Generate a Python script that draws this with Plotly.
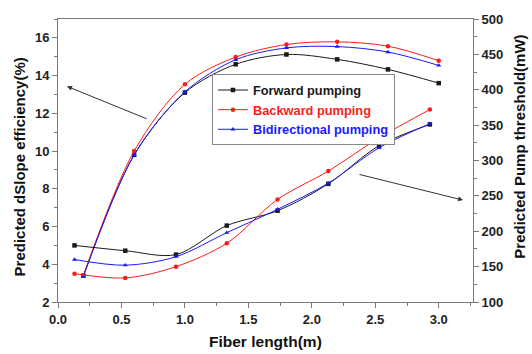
import plotly.graph_objects as go

# Slope efficiency (left axis)
len_slope = [0.2, 0.6, 1.0, 1.4, 1.8, 2.2, 2.6, 3.0]
slope_fwd = [3.4, 9.8, 13.1, 14.6, 15.12, 14.86, 14.33, 13.6]
slope_bwd = [3.4, 10.0, 13.54, 14.98, 15.65, 15.79, 15.56, 14.79]
slope_bid = [3.35, 9.79, 13.14, 14.84, 15.47, 15.54, 15.25, 14.54]

# Pump threshold (right axis)
len_thr = [0.13, 0.53, 0.93, 1.33, 1.73, 2.13, 2.53, 2.93]
thr_fwd = [180, 172.5, 167, 208, 229, 267, 321, 351]
thr_bwd = [140, 134, 150, 183, 245, 285, 332, 372]
thr_bid = [160, 152, 164, 198, 231, 268, 318, 352]

names = ["Forward pumping", "Backward pumping", "Bidirectional pumping"]
colors = ["#1a1a1a", "#ff1a1a", "#1a1aff"]
symbols = ["square", "circle", "triangle-up"]

fig = go.Figure()
for name, col, sym, ys in zip(names, colors, symbols, [slope_fwd, slope_bwd, slope_bid]):
    fig.add_trace(go.Scatter(x=len_slope, y=ys,
                             name="<b><span style='color:%s'>%s</span></b>" % (col, name),
                             mode="lines+markers",
                             line=dict(color=col, width=1, shape="spline", smoothing=0.9),
                             marker=dict(color=col, symbol=sym, size=4.5),
                             legendgroup=name))
for name, col, sym, ys in zip(names, colors, symbols, [thr_fwd, thr_bwd, thr_bid]):
    fig.add_trace(go.Scatter(x=len_thr, y=ys, name=name, mode="lines+markers", yaxis="y2",
                             line=dict(color=col, width=1, shape="spline", smoothing=0.9),
                             marker=dict(color=col, symbol=sym, size=4.5),
                             legendgroup=name, showlegend=False))

axcol = "#7a7a7a"
FONT = "Liberation Sans, Arial, sans-serif"
tickfont = dict(family=FONT, size=13, color="#222")
titlefont = dict(family=FONT, size=15, color="#111")

fig.update_layout(
    width=532, height=354,
    margin=dict(l=58, r=59, t=16, b=52),
    paper_bgcolor="white", plot_bgcolor="white",
    showlegend=True,
    legend=dict(x=0.371, y=0.805, xanchor="left", yanchor="top",
                bgcolor="white", bordercolor="#888", borderwidth=1,
                font=dict(family=FONT, size=12.8),
                tracegroupgap=0, itemwidth=30),
    xaxis=dict(range=[0, 3.27], tickvals=[0, 0.5, 1.0, 1.5, 2.0, 2.5, 3.0],
               ticktext=["<b>0.0</b>", "<b>0.5</b>", "<b>1.0</b>", "<b>1.5</b>", "<b>2.0</b>", "<b>2.5</b>", "<b>3.0</b>"],
               ticks="outside", ticklen=5, tickcolor=axcol,
               minor=dict(dtick=0.25, ticks="outside", ticklen=3, tickcolor=axcol),
               showline=True, linecolor=axcol, linewidth=1, mirror=True,
               showgrid=False, zeroline=False, tickfont=tickfont),
    yaxis=dict(range=[2, 17], tickvals=[2, 4, 6, 8, 10, 12, 14, 16],
               ticktext=["<b>%d</b>" % v for v in [2, 4, 6, 8, 10, 12, 14, 16]],
               ticks="outside", ticklen=5, tickcolor=axcol,
               minor=dict(dtick=1, ticks="outside", ticklen=3, tickcolor=axcol),
               showline=True, linecolor=axcol, linewidth=1,
               showgrid=False, zeroline=False, tickfont=tickfont),
    yaxis2=dict(range=[100, 500], overlaying="y", side="right",
                tickvals=[100, 150, 200, 250, 300, 350, 400, 450, 500],
                ticktext=["<b>%d</b>" % v for v in [100, 150, 200, 250, 300, 350, 400, 450, 500]],
                ticks="outside", ticklen=5, tickcolor=axcol,
                minor=dict(dtick=25, ticks="outside", ticklen=3, tickcolor=axcol),
                showline=True, linecolor=axcol, linewidth=1,
                showgrid=False, zeroline=False, tickfont=tickfont),
)

# axis titles as annotations (pixel-tuned positions)
fig.add_annotation(xref="paper", yref="paper", x=(19 - 58) / 415, y=1 - (166 - 16) / 286,
                   text="<b>Predicted dSlope efficiency(%)</b>", textangle=-90, showarrow=False,
                   font=titlefont, xanchor="center", yanchor="middle")
fig.add_annotation(xref="paper", yref="paper", x=(520 - 58) / 415, y=1 - (145 - 16) / 286,
                   text="<b>Predicted Pump threshold(mW)</b>", textangle=-90, showarrow=False,
                   font=titlefont, xanchor="center", yanchor="middle")
fig.add_annotation(xref="paper", yref="paper", x=(265 - 58) / 415, y=1 - (342 - 16) / 286,
                   text="<b>Fiber length(m)</b>", showarrow=False,
                   font=dict(family=FONT, size=15.5, color="#111"), xanchor="center", yanchor="middle")

fig.add_annotation(xref="paper", yref="paper", x=0.0217, y=0.762, ax=81, ay=33,
                   showarrow=True, arrowhead=2, arrowsize=1, arrowwidth=1, arrowcolor="#333", text="")
fig.add_annotation(xref="paper", yref="paper", x=0.976, y=0.36, ax=-105, ay=-26,
                   showarrow=True, arrowhead=2, arrowsize=1, arrowwidth=1, arrowcolor="#333", text="")

fig.write_html("out.html")
